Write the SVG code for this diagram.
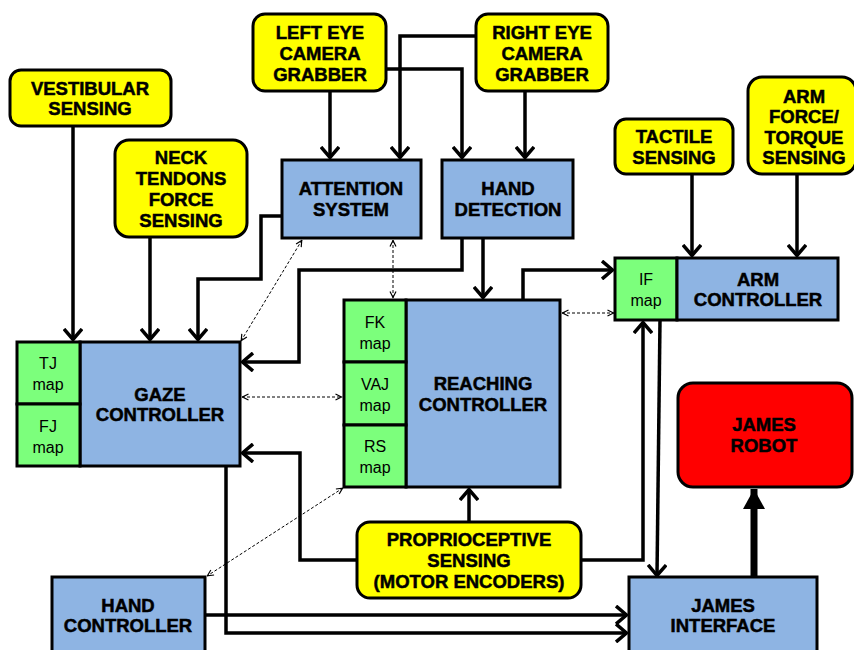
<svg xmlns="http://www.w3.org/2000/svg" width="854" height="650" viewBox="0 0 854 650">
<style>
.y{fill:#FFFF00;stroke:#000;stroke-width:3}
.b{fill:#8EB4E3;stroke:#000;stroke-width:3}
.g{fill:#7CFF7C;stroke:#000;stroke-width:3}
.r{fill:#FF0000;stroke:#000;stroke-width:3}
text{font-family:"Liberation Sans",Arial,sans-serif;text-anchor:middle;fill:#000}
.t{font-weight:bold;font-size:18.5px;stroke:#000;stroke-width:0.5}
.m{font-size:16px}
.c{fill:none;stroke:#000;stroke-width:3.5}
.d{fill:none;stroke:#000;stroke-width:1;stroke-dasharray:3,2}
</style>
<defs>
<marker id="a" viewBox="0 0 13 20" refX="12" refY="10" markerWidth="13" markerHeight="20" markerUnits="userSpaceOnUse" orient="auto">
<path d="M1,1 L11.5,10 L1,19" fill="none" stroke="#000" stroke-width="3.5"/>
</marker>
<marker id="s" viewBox="0 0 8 8" refX="7.5" refY="4" markerWidth="8" markerHeight="8" markerUnits="userSpaceOnUse" orient="auto-start-reverse">
<path d="M1,1 L7,4 L1,7" fill="none" stroke="#000" stroke-width="1.2"/>
</marker>
<marker id="T" viewBox="0 0 20 22" refX="20" refY="11" markerWidth="20" markerHeight="22" markerUnits="userSpaceOnUse" orient="auto">
<path d="M0,0 L20,11 L0,22 Z" fill="#000"/>
</marker>
</defs>

<g id="connectors">
<path class="c" d="M73,126 V340" marker-end="url(#a)"/>
<path class="c" d="M150,237 V340" marker-end="url(#a)"/>
<path class="c" d="M330,91 V158" marker-end="url(#a)"/>
<path class="c" d="M476,36 H400 V158" marker-end="url(#a)"/>
<path class="c" d="M386,69 H462 V158" marker-end="url(#a)"/>
<path class="c" d="M525,91 V158" marker-end="url(#a)"/>
<path class="c" d="M282,216 H261 V279 H198 V340" marker-end="url(#a)"/>
<path class="c" d="M462,238 V270 H299 V362 H242" marker-end="url(#a)"/>
<path class="c" d="M483,238 V298" marker-end="url(#a)"/>
<path class="c" d="M523,300 V270 H613" marker-end="url(#a)"/>
<path class="c" d="M692,174 V256" marker-end="url(#a)"/>
<path class="c" d="M797,174 V256" marker-end="url(#a)"/>
<path class="c" d="M469,522 V489" marker-end="url(#a)"/>
<path class="c" d="M357,560 H300 V453 H242" marker-end="url(#a)"/>
<path class="c" d="M581,560 H643 V322" marker-end="url(#a)"/>
<path class="c" d="M660,320 L657,576" marker-end="url(#a)"/>
<path class="c" d="M226,466 V633 H627" marker-end="url(#a)"/>
<path class="c" d="M205,615 H627" marker-end="url(#a)"/>
<path d="M754,577 V489" fill="none" stroke="#000" stroke-width="7" marker-end="url(#T)"/>
<path class="d" d="M393,240 V298" marker-start="url(#s)" marker-end="url(#s)"/>
<path class="d" d="M302,240 L241,341" marker-start="url(#s)" marker-end="url(#s)"/>
<path class="d" d="M562,313 H614" marker-start="url(#s)" marker-end="url(#s)"/>
<path class="d" d="M242,397 H342" marker-start="url(#s)" marker-end="url(#s)"/>
<path class="d" d="M343,488 L207,576" marker-start="url(#s)" marker-end="url(#s)"/>
</g>

<g id="vestibular">
<rect class="y" x="10" y="70" width="161" height="56" rx="11"/>
<text class="t" x="90" y="94.5">VESTIBULAR</text>
<text class="t" x="90" y="114.5">SENSING</text>
</g>
<g id="neck">
<rect class="y" x="115" y="140" width="132" height="97" rx="14"/>
<text class="t" x="181" y="163.5">NECK</text>
<text class="t" x="181" y="184.5">TENDONS</text>
<text class="t" x="181" y="205.5">FORCE</text>
<text class="t" x="181" y="226.5">SENSING</text>
</g>
<g id="lefteye">
<rect class="y" x="253" y="14" width="133" height="77" rx="12"/>
<text class="t" x="320" y="38.5">LEFT EYE</text>
<text class="t" x="320" y="59.5">CAMERA</text>
<text class="t" x="320" y="80.5">GRABBER</text>
</g>
<g id="righteye">
<rect class="y" x="476" y="14" width="132" height="77" rx="12"/>
<text class="t" x="542" y="38.5">RIGHT EYE</text>
<text class="t" x="542" y="59.5">CAMERA</text>
<text class="t" x="542" y="80.5">GRABBER</text>
</g>
<g id="attention">
<rect class="b" x="282" y="160" width="139" height="78"/>
<text class="t" x="351" y="194.5">ATTENTION</text>
<text class="t" x="351" y="215.5">SYSTEM</text>
</g>
<g id="handdetection">
<rect class="b" x="442" y="160" width="131" height="78"/>
<text class="t" x="508" y="194.5">HAND</text>
<text class="t" x="508" y="215.5">DETECTION</text>
</g>
<g id="tactile">
<rect class="y" x="615" y="119" width="118" height="55" rx="11"/>
<text class="t" x="674" y="142.5">TACTILE</text>
<text class="t" x="674" y="163.5">SENSING</text>
</g>
<g id="armforce">
<rect class="y" x="748" y="77" width="108" height="97" rx="14"/>
<text class="t" x="804" y="102.5">ARM</text>
<text class="t" x="804" y="123">FORCE/</text>
<text class="t" x="804" y="143.5">TORQUE</text>
<text class="t" x="804" y="164">SENSING</text>
</g>
<g id="armcontroller">
<rect class="g" x="615" y="258" width="62" height="62"/>
<text class="m" x="646" y="285">IF</text>
<text class="m" x="646" y="306">map</text>
<rect class="b" x="677" y="258" width="161" height="62"/>
<text class="t" x="758" y="285.5">ARM</text>
<text class="t" x="758" y="305.5">CONTROLLER</text>
</g>
<g id="gaze">
<rect class="b" x="80" y="342" width="160" height="124"/>
<rect class="g" x="17" y="342" width="63" height="62"/>
<rect class="g" x="17" y="404" width="63" height="62"/>
<text class="m" x="48" y="369">TJ</text>
<text class="m" x="48" y="390">map</text>
<text class="m" x="48" y="432">FJ</text>
<text class="m" x="48" y="453">map</text>
<text class="t" x="160" y="400.5">GAZE</text>
<text class="t" x="160" y="420.5">CONTROLLER</text>
</g>
<g id="reaching">
<rect class="b" x="406" y="300" width="154" height="187"/>
<rect class="g" x="344" y="300" width="62" height="62"/>
<rect class="g" x="344" y="362" width="62" height="63"/>
<rect class="g" x="344" y="425" width="62" height="62"/>
<text class="m" x="375" y="328">FK</text>
<text class="m" x="375" y="349">map</text>
<text class="m" x="375" y="390">VAJ</text>
<text class="m" x="375" y="411">map</text>
<text class="m" x="375" y="452">RS</text>
<text class="m" x="375" y="473">map</text>
<text class="t" x="483" y="389.5">REACHING</text>
<text class="t" x="483" y="410.5">CONTROLLER</text>
</g>
<g id="proprioceptive">
<rect class="y" x="357" y="522" width="224" height="76" rx="13"/>
<text class="t" x="469" y="545.5">PROPRIOCEPTIVE</text>
<text class="t" x="469" y="566.5">SENSING</text>
<text class="t" x="469" y="587.5">(MOTOR ENCODERS)</text>
</g>
<g id="robot">
<rect class="r" x="678" y="383" width="174" height="104" rx="15"/>
<text class="t" x="764" y="431">JAMES</text>
<text class="t" x="764" y="452">ROBOT</text>
</g>
<g id="handcontroller">
<rect class="b" x="52" y="577" width="153" height="80"/>
<text class="t" x="128" y="611.5">HAND</text>
<text class="t" x="128" y="631.5">CONTROLLER</text>
</g>
<g id="interface">
<rect class="b" x="629" y="577" width="188" height="80"/>
<text class="t" x="723" y="611.5">JAMES</text>
<text class="t" x="723" y="631.5">INTERFACE</text>
</g>
</svg>
